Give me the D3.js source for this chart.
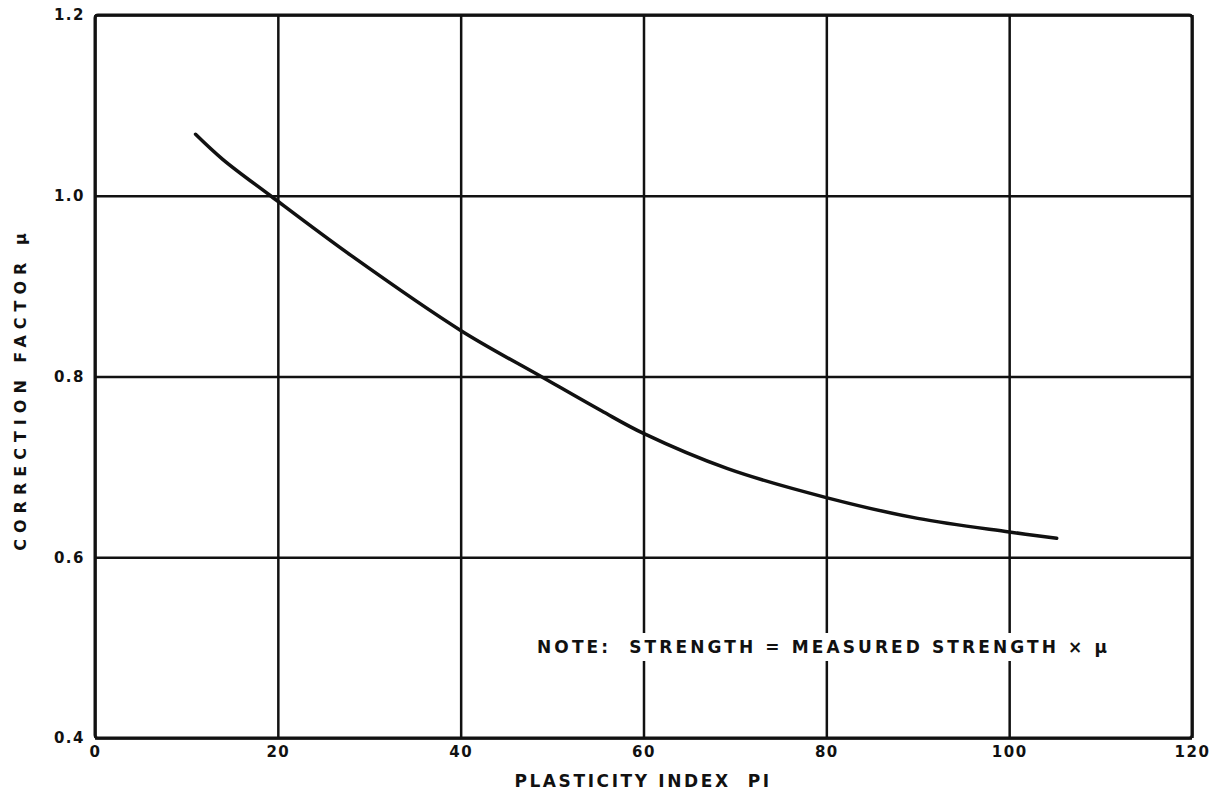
<!DOCTYPE html>
<html>
<head>
<meta charset="utf-8">
<script src="https://cdn.jsdelivr.net/npm/d3@7"></script>
<style>
    body { margin: 0; background: #fff; }
    text { font-family: "DejaVu Sans", "Liberation Sans", sans-serif; font-weight: bold; fill: #111; }
</style>
</head>
<body>
<svg id="chart" width="1211" height="800"></svg>
<script>
// Curve.
let plasticityIndex = [11, 14, 19.2, 28, 40, 48.8, 55.4, 60, 69.2, 80, 90, 100, 105.2];
let correctionFactor = [1.068, 1.040, 1.0, 0.934, 0.851, 0.80, 0.762, 0.737, 0.698, 0.666, 0.643, 0.628, 0.621];

// Tick values.
let xTicks = [0, 20, 40, 60, 80, 100, 120];
let yTicks = [0.4, 0.6, 0.8, 1.0, 1.2];

// Texts.
let xTitle = "PLASTICITY INDEX  PI";
let yTitle = "CORRECTION FACTOR \u03bc";
let noteText = "NOTE:  STRENGTH = MEASURED STRENGTH \u00d7 \u03bc";

// Display parameters.
let ink = "#111";
let gridWidth = 2.5;
let borderWidth = 3;
let curveWidth = 3.5;

let svg = d3.select("#chart");

let x = d3.scaleLinear().domain([0, 120]).range([95, 1192]);
let y = d3.scaleLinear().domain([0.4, 1.2]).range([738, 15]);

// Vertical grid lines and x tick labels.
let xAxis = svg.append("g")
    .attr("transform", `translate(0,${y(0.4)})`)
    .call(d3.axisBottom(x)
        .tickValues(xTicks)
        .tickSize(-(y(0.4) - y(1.2)))
        .tickPadding(8)
        .tickFormat(d3.format("d")));

// Horizontal grid lines and y tick labels.
let yAxis = svg.append("g")
    .attr("transform", `translate(${x(0)},0)`)
    .call(d3.axisLeft(y)
        .tickValues(yTicks)
        .tickSize(-(x(120) - x(0)))
        .tickPadding(10)
        .tickFormat(d3.format(".1f")));

[xAxis, yAxis].forEach(function(axis) {
    axis.select(".domain").remove();
    axis.selectAll(".tick line")
        .attr("stroke", ink)
        .attr("stroke-width", gridWidth);
    axis.selectAll(".tick text")
        .style("font-size", "15px")
        .style("letter-spacing", "1.5px")
        .attr("fill", ink);
});

// Outer frame.
svg.append("rect")
    .attr("x", x(0))
    .attr("y", y(1.2))
    .attr("width", x(120) - x(0))
    .attr("height", y(0.4) - y(1.2))
    .attr("fill", "none")
    .attr("stroke", ink)
    .attr("stroke-width", borderWidth)
    .attr("rx", 3);

// Correction factor curve.
let points = plasticityIndex.map(function(d, i) {
    return [d, correctionFactor[i]];
});

let line = d3.line()
    .x(function(d) { return x(d[0]); })
    .y(function(d) { return y(d[1]); })
    .curve(d3.curveCatmullRom.alpha(0.5));

svg.append("path")
    .datum(points)
    .attr("d", line)
    .attr("fill", "none")
    .attr("stroke", ink)
    .attr("stroke-width", curveWidth)
    .attr("stroke-linecap", "round");

// Note, on a white band that breaks the grid lines.
let noteBand = svg.append("rect").attr("fill", "#fff");

let note = svg.append("text")
    .attr("x", 537)
    .attr("y", 653)
    .style("font-size", "17px")
    .style("letter-spacing", "3.1px")
    .style("white-space", "pre")
    .text(noteText);

let box = note.node().getBBox();
noteBand
    .attr("x", box.x - 6)
    .attr("y", box.y - 4)
    .attr("width", box.width + 10)
    .attr("height", box.height + 8);

// Axis titles.
svg.append("text")
    .attr("x", 643)
    .attr("y", 787)
    .attr("text-anchor", "middle")
    .style("font-size", "17px")
    .style("letter-spacing", "2.6px")
    .style("white-space", "pre")
    .text(xTitle);

svg.append("text")
    .attr("transform", "translate(26,389) rotate(-90)")
    .attr("text-anchor", "middle")
    .style("font-size", "16px")
    .style("letter-spacing", "6px")
    .text(yTitle);
</script>
</body>
</html>
